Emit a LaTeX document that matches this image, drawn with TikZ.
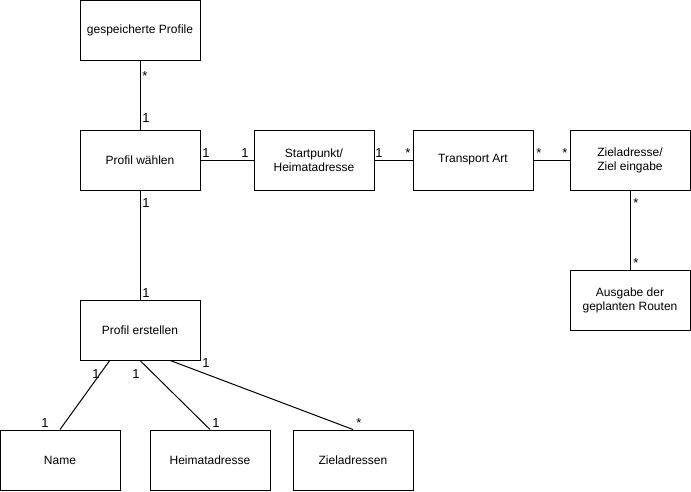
\documentclass[tikz,border=0pt]{standalone}
\usepackage{fontspec}
\setmainfont{Liberation Sans}
\usetikzlibrary{calc}
\begin{document}
\begin{tikzpicture}[x=1pt,y=-1pt,
  box/.style={draw=black,line width=1pt,minimum width=120pt,minimum height=60pt,inner sep=2pt,align=center,font=\fontsize{12}{14}\selectfont},
  conn/.style={draw=black,line width=1pt},
  lbl/.style={anchor=base,inner sep=0pt,font=\fontsize{13}{15}\selectfont}]
\useasboundingbox (0,0) rectangle (691,491);
\node[box] (gp) at (140,30) {gespeicherte Profile};
\node[box] (pw) at (140,160) {Profil wählen};
\node[box] (sp) at (314,160) {Startpunkt/\\Heimatadresse};
\node[box] (ta) at (473,160) {Transport Art};
\node[box] (za) at (630,160) {Zieladresse/\\Ziel eingabe};
\node[box] (ag) at (630,300) {Ausgabe der\\geplanten Routen};
\node[box] (pe) at (140,330) {Profil erstellen};
\node[box] (nm) at (60,460) {Name};
\node[box] (ha) at (210,460) {Heimatadresse};
\node[box] (zs) at (353,460) {Zieladressen};
\coordinate (pe1) at ($(pe.south west)!0.25!(pe.south east)$);
\coordinate (pe3) at ($(pe.south west)!0.75!(pe.south east)$);
\draw[conn] (gp) -- (pw);
\draw[conn] (pw) -- (pe);
\draw[conn] (pw) -- (sp);
\draw[conn] (sp) -- (ta);
\draw[conn] (ta) -- (za);
\draw[conn] (za) -- (ag);
\draw[conn] (pe1) -- (nm.north);
\draw[conn] (pe.south) -- (ha.north);
\draw[conn] (pe3) -- (zs.north);
\node[lbl] (l1) at (145,80) {*};
\node[lbl] (l2) at (146,122) {1};
\node[lbl] (l3) at (146,207) {1};
\node[lbl] (l4) at (146,297) {1};
\node[lbl] (l5) at (206,157) {1};
\node[lbl] (l6) at (245,157) {1};
\node[lbl] (l7) at (379,157) {1};
\node[lbl] (l8) at (408,157) {*};
\node[lbl] (l9) at (539,157) {*};
\node[lbl] (l10) at (565,157) {*};
\node[lbl] (l11) at (636,207) {*};
\node[lbl] (l12) at (636,267) {*};
\node[lbl] (l13) at (96,378) {1};
\node[lbl] (l14) at (45,427) {1};
\node[lbl] (l15) at (136,378) {1};
\node[lbl] (l16) at (216,427) {1};
\node[lbl] (l17) at (206,367) {1};
\node[lbl] (l18) at (359,427) {*};
\end{tikzpicture}
\end{document}
